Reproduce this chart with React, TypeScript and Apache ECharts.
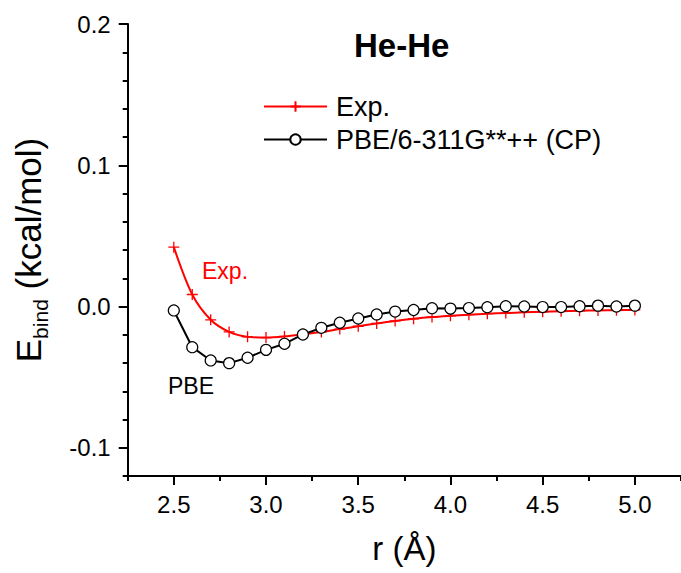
import React, { useEffect, useRef } from "react";
import * as echarts from "echarts";

const rValues = [2.5, 2.6, 2.7, 2.8, 2.9, 3.0, 3.1, 3.2, 3.3, 3.4, 3.5, 3.6, 3.7, 3.8, 3.9, 4.0, 4.1, 4.2, 4.3, 4.4, 4.5, 4.6, 4.7, 4.8, 4.9, 5.0];
const expValues = [0.042, 0.0085, -0.0094, -0.018, -0.0215, -0.022, -0.0212, -0.0197, -0.018, -0.016, -0.014, -0.012, -0.0102, -0.0087, -0.0075, -0.0066, -0.0058, -0.0051, -0.0046, -0.0041, -0.0037, -0.0033, -0.003, -0.0028, -0.0026, -0.0024];
const pbeValues = [-0.0028, -0.0288, -0.0382, -0.0401, -0.0363, -0.0307, -0.0264, -0.0198, -0.0151, -0.0115, -0.0085, -0.0056, -0.0036, -0.0025, -0.0012, -0.0015, -0.0011, -0.0005, 0.0002, 0.0, -0.0004, -0.0004, 0.0002, 0.0006, 0.0, 0.0006];
const xMajorTicks = [2.5, 3.0, 3.5, 4.0, 4.5, 5.0];
const yMajorTicks = [-0.1, 0.0, 0.1, 0.2];
const seriesNames = ["Exp.", "PBE/6-311G**++ (CP)"];

const FONT = "'Liberation Sans', Arial, sans-serif";

export default function App() {
  const ref = useRef<HTMLDivElement>(null);
  useEffect(() => {
    if (!ref.current) return;
    const chart = echarts.init(ref.current, null, { renderer: "svg" });
    const axisLineStyle = { color: "#000", width: 2 };
    chart.setOption({
      animation: false,
      textStyle: { fontFamily: FONT, color: "#000" },
      grid: { left: 127.7, right: -5.6, top: 24, bottom: 97, containLabel: false },
      legend: {
        orient: "vertical",
        left: 263,
        top: 93,
        padding: 0,
        itemWidth: 63,
        itemHeight: 13,
        itemGap: 6,
        data: seriesNames,
        textStyle: { fontSize: 27, color: "#000", fontFamily: FONT, padding: [0, 0, 0, 4] },
      },
      xAxis: [
        {
          type: "value",
          min: 2.25,
          max: 5.25,
          position: "bottom",
          axisLine: { show: true, onZero: false, lineStyle: axisLineStyle },
          axisTick: { show: true, customValues: xMajorTicks, length: 9, lineStyle: { color: "#000", width: 2 } },
          axisLabel: {
            customValues: xMajorTicks,
            formatter: (v: number) => v.toFixed(1),
            fontSize: 24,
            color: "#000",
            fontFamily: FONT,
            margin: 16,
          },
          splitLine: { show: false },
          name: "r (Å)",
          nameLocation: "middle",
          nameGap: 56,
          nameTextStyle: { fontSize: 33, color: "#000", fontFamily: FONT },
        },
        {
          type: "value",
          min: 2.25,
          max: 5.25,
          interval: 0.25,
          position: "bottom",
          axisLine: { show: false, onZero: false },
          axisTick: { show: true, length: 5, lineStyle: { color: "#000", width: 2 } },
          axisLabel: { show: false },
          splitLine: { show: false },
        },
      ],
      yAxis: [
        {
          type: "value",
          min: -0.12,
          max: 0.2,
          position: "left",
          axisLine: { show: true, onZero: false, lineStyle: axisLineStyle },
          axisTick: { show: true, customValues: yMajorTicks, length: 9, lineStyle: { color: "#000", width: 2 } },
          axisLabel: {
            customValues: yMajorTicks,
            formatter: (v: number) => v.toFixed(1),
            fontSize: 24,
            color: "#000",
            fontFamily: FONT,
            margin: 17,
          },
          splitLine: { show: false },
          name: "{e|E}{s|bind}{t| (kcal/mol)}",
          nameLocation: "middle",
          nameGap: 77,
          nameTextStyle: {
            fontFamily: FONT,
            color: "#000",
            rich: {
              e: { fontSize: 35, fontFamily: FONT, color: "#000" },
              s: { fontSize: 21, fontFamily: FONT, color: "#000", padding: [24, 0, 0, 0] },
              t: { fontSize: 35, fontFamily: FONT, color: "#000" },
            },
          },
        },
        {
          type: "value",
          min: -0.12,
          max: 0.2,
          interval: 0.02,
          position: "left",
          axisLine: { show: false, onZero: false },
          axisTick: { show: true, length: 5, lineStyle: { color: "#000", width: 2 } },
          axisLabel: { show: false },
          splitLine: { show: false },
        },
      ],
      graphic: [
        {
          type: "text",
          left: 404 - 50,
          top: 29,
          style: { text: "He-He", fill: "#000", font: `bold 33px ${FONT}`, width: 100, align: "center" },
        },
        {
          type: "text",
          left: 202,
          top: 259,
          style: { text: "Exp.", fill: "#ff0000", font: `23px ${FONT}` },
        },
        {
          type: "text",
          left: 168,
          top: 374,
          style: { text: "PBE", fill: "#000", font: `23px ${FONT}` },
        },
      ],
      series: [
        {
          name: seriesNames[0],
          type: "line",
          xAxisIndex: 0,
          yAxisIndex: 0,
          data: rValues.map((r, i) => [r, expValues[i]]),
          smooth: 0.3,
          symbol: "path://M0,5L10,5M5,0L5,10",
          symbolSize: 11,
          lineStyle: { color: "#ff0000", width: 2 },
          itemStyle: { color: "#ff0000", borderColor: "#ff0000", borderWidth: 1.3 },
          z: 2,
        },
        {
          name: seriesNames[1],
          type: "line",
          xAxisIndex: 0,
          yAxisIndex: 0,
          data: rValues.map((r, i) => [r, pbeValues[i]]),
          symbol: "circle",
          symbolSize: 11,
          lineStyle: { color: "#000", width: 2 },
          itemStyle: { color: "#fff", borderColor: "#000", borderWidth: 1.2 },
          z: 3,
        },
      ],
    });
    return () => chart.dispose();
  }, []);
  return <div ref={ref} style={{ position: "absolute", left: 0, top: 0, width: 681, height: 573 }} />;
}
